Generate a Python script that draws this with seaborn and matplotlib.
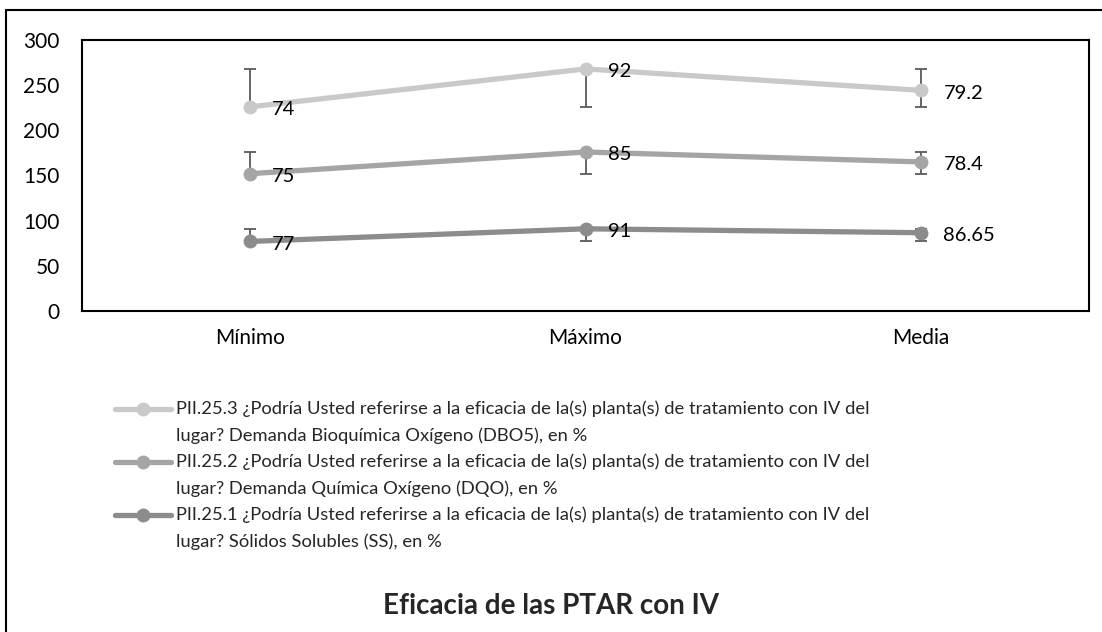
import matplotlib
matplotlib.use("Agg")
import matplotlib.pyplot as plt
from matplotlib.lines import Line2D
from matplotlib.patches import Rectangle
import numpy as np
import pandas as pd
import seaborn as sns

# categories and series values (each series stacked on the ones below it)
categories = ["Mínimo", "Máximo", "Media"]
ss_values = [77, 91, 86.65]
dqo_values = [75, 85, 78.4]
dbo_values = [74, 92, 79.2]

series_names = ["SS", "DQO", "DBO5"]
legend_line1 = [
    "PII.25.3 ¿Podría Usted referirse a la eficacia de la(s) planta(s) de tratamiento con IV del",
    "PII.25.2 ¿Podría Usted referirse a la eficacia de la(s) planta(s) de tratamiento con IV del",
    "PII.25.1 ¿Podría Usted referirse a la eficacia de la(s) planta(s) de tratamiento con IV del",
]
legend_line2 = [
    "lugar? Demanda Bioquímica Oxígeno (DBO5), en %",
    "lugar? Demanda Química Oxígeno (DQO), en %",
    "lugar? Sólidos Solubles (SS), en %",
]
y_ticks = [0, 50, 100, 150, 200, 250, 300]
title = "Eficacia de las PTAR con IV"

colors = {"SS": "#8c8c8c", "DQO": "#a5a5a5", "DBO5": "#c9c9c9"}
err_color = "#595959"

W, H = 1102, 632

sns.set_theme(style="white")
plt.rcParams["font.family"] = ["Lato", "DejaVu Sans"]

raw = np.array([ss_values, dqo_values, dbo_values])
stacked = np.cumsum(raw, axis=0)

rows = []
for name, vals, cum in zip(series_names, raw, stacked):
    for cat, v, c in zip(categories, vals, cum):
        rows.append({"cat": cat, "serie": name, "valor": v, "apilado": c})
df = pd.DataFrame(rows)

fig = plt.figure(figsize=(W / 100, H / 100), dpi=100)
ax = fig.add_axes([82 / W, 1 - 311 / H, (1089 - 82) / W, (311 - 40) / H])

# error bars: min point reaches up to max, max reaches down to min, mean spans both
for cum in stacked:
    lo, hi, mean = cum[0], cum[1], cum[2]
    lower = [0, hi - lo, mean - lo]
    upper = [hi - lo, 0, hi - mean]
    ax.errorbar(categories, cum, yerr=[lower, upper], fmt="none",
                ecolor=err_color, elinewidth=1.3, capsize=4.5, capthick=1.3, zorder=1)

sns.lineplot(data=df, x="cat", y="apilado", hue="serie", palette=colors,
             marker="o", markersize=10, markeredgewidth=0, linewidth=3.8,
             ax=ax, legend=False, zorder=2, sort=False)

# data labels
for _, r in df.iterrows():
    lab = f"{r['valor']:g}"
    ax.annotate(lab, (r["cat"], r["apilado"]), xytext=(16, -2), textcoords="offset points",
                ha="left", va="center", fontsize=14.5, color="black", zorder=3)

ax.set_xlim(-0.5, 2.5)
ax.set_ylim(0, 300)
ax.set_yticks(y_ticks)
ax.set_xlabel("")
ax.set_ylabel("")
ax.tick_params(axis="both", length=0, labelsize=15, colors="black")
ax.tick_params(axis="y", pad=16)
ax.tick_params(axis="x", pad=12)
for s in ax.spines.values():
    s.set_visible(True)
    s.set_color("black")
    s.set_linewidth(1.5)

# legend drawn as figure lines and text so each entry wraps on two lines
line_y = [409, 435.5, 462, 488.5, 515, 541.5]
for i, name in enumerate(["DBO5", "DQO", "SS"]):
    y1 = 1 - line_y[2 * i] / H
    y2 = 1 - line_y[2 * i + 1] / H
    fig.add_artist(Line2D([115 / W, 171 / W], [y1, y1], transform=fig.transFigure,
                          color=colors[name], lw=3.8))
    fig.add_artist(Line2D([143 / W], [y1], transform=fig.transFigure, color=colors[name],
                          marker="o", markersize=10, markeredgewidth=0))
    fig.text(176 / W, y1, legend_line1[i], ha="left", va="center", fontsize=13.2)
    fig.text(176 / W, y2, legend_line2[i], ha="left", va="center", fontsize=13.2)

fig.text(0.5, 1 - 606 / H, title, ha="center", va="center", fontsize=20, fontweight="bold")

# outer chart frame
fig.patches.append(Rectangle((6 / W, -0.05), 1.1, 1 - 10 / H + 0.05, transform=fig.transFigure,
                             fill=False, edgecolor="black", lw=1.5, clip_on=False))

fig.savefig("out.png", dpi=100)
